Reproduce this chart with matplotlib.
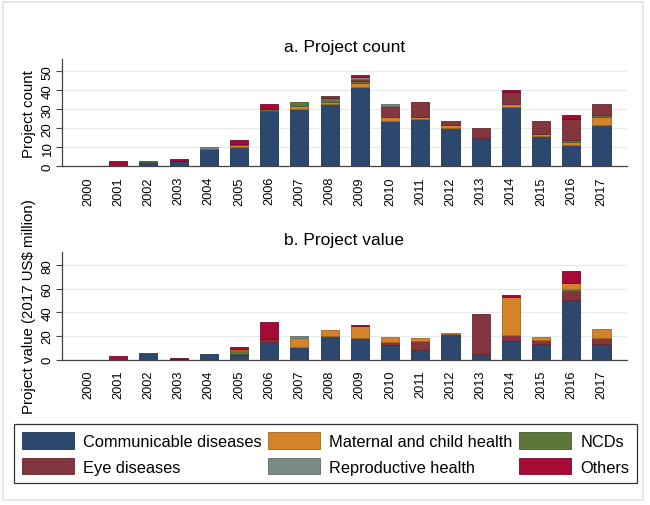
import numpy as np
import matplotlib
matplotlib.use('Agg')
import matplotlib.pyplot as plt
from matplotlib.patches import Patch, Rectangle

plt.rcParams['font.family'] = ['Liberation Sans', 'DejaVu Sans']

years = [str(y) for y in range(2000, 2018)]

# a. project count
comm_n = [0, 0, 2, 3, 9, 10, 29, 30, 33, 42, 24, 25, 20, 15, 31, 16, 11, 22]
mch_n = [0, 0, 0, 0, 0, 1, 0, 2, 1, 2, 2, 1, 2, 0, 2, 1, 2, 4]
ncd_n = [0, 0, 1, 0, 0, 1, 1, 2, 2, 1, 0, 0, 0, 0, 0, 0, 1, 1]
eye_n = [0, 0, 0, 0, 0, 0, 0, 0, 1, 1, 6, 8, 2, 5, 6, 7, 11, 6]
rep_n = [0, 0, 0, 0, 1, 0, 0, 0, 0, 1, 1, 0, 0, 0, 0, 0, 0, 0]
oth_n = [0, 3, 0, 1, 0, 2, 3, 0, 0, 1, 0, 0, 0, 0, 1, 0, 2, 0]

# b. project value (2017 US$ million)
comm_v = [0, 0, 5.3, 0.4, 4.8, 4.0, 15.2, 10.4, 20.3, 18.0, 12.4, 8.5, 21.4, 4.8, 16.0, 13.0, 50.7, 13.2]
eye_v = [0, 0, 0, 0, 0, 0.8, 2.3, 0, 0, 0.7, 2.8, 7.0, 0.5, 33.8, 4.8, 3.7, 7.6, 4.2]
ncd_v = [0, 0, 0.3, 0, 0, 3.7, 0, 0, 0, 0, 0, 0, 0, 0, 0, 0, 2.0, 0.8]
mch_v = [0, 0, 0, 0, 0, 0.5, 0, 7.6, 4.8, 9.9, 3.7, 2.5, 0.9, 0, 32.1, 2.8, 4.5, 7.9]
rep_v = [0, 0, 0, 0, 0, 0, 0, 1.7, 0, 0, 0, 0, 0, 0, 0, 0, 0, 0]
oth_v = [0, 2.8, 0, 1.0, 0, 1.4, 14.1, 0, 0, 1.0, 0, 0, 0, 0, 1.7, 0, 10.4, 0]

colors = {'Communicable diseases': '#2d486e', 'Maternal and child health': '#d5832a',
          'NCDs': '#5f763a', 'Eye diseases': '#84363e',
          'Reproductive health': '#7a8c84', 'Others': '#a60a37'}
edges = {'Communicable diseases': '#1f3350', 'Maternal and child health': '#a8651c',
         'NCDs': '#46582a', 'Eye diseases': '#62272d',
         'Reproductive health': '#5c6b64', 'Others': '#7a0628'}

top_stack = [('Communicable diseases', comm_n), ('Maternal and child health', mch_n),
             ('NCDs', ncd_n), ('Eye diseases', eye_n),
             ('Reproductive health', rep_n), ('Others', oth_n)]
bot_stack = [('Communicable diseases', comm_v), ('Eye diseases', eye_v),
             ('NCDs', ncd_v), ('Maternal and child health', mch_v),
             ('Reproductive health', rep_v), ('Others', oth_v)]

fig = plt.figure(figsize=(6.5, 5.06), dpi=100)
fig.patch.set_facecolor('white')
fig.patches.append(Rectangle((3/650, 5/506), 640/650, 498/506, transform=fig.transFigure,
                             fill=False, edgecolor='#dfe3e8', lw=1.2))

ax1 = fig.add_axes([0.0954, 0.6694, 0.869, 0.212])
ax2 = fig.add_axes([0.0954, 0.2872, 0.869, 0.2122])

x = np.arange(len(years))


def draw(ax, stack, ylim, yticks, ylab):
    bottom = np.zeros(len(years))
    for name, vals in stack:
        vals = np.array(vals, dtype=float)
        lw = np.where(vals > 0, 0.6, 0)
        ax.bar(x, vals, 0.6, bottom=bottom, color=colors[name],
               edgecolor=edges[name], linewidth=lw, zorder=3)
        bottom += vals
    ax.set_xlim(-0.86, 17.84)
    ax.set_ylim(*ylim)
    ax.set_yticks(yticks)
    ax.set_xticks(x)
    ax.set_xticklabels(years, rotation=90, fontsize=9.2)
    ax.tick_params(axis='x', length=0, pad=7)
    ax.tick_params(axis='y', length=4, width=0.8, color='#444444', pad=2, labelsize=9.5)
    for t in ax.get_yticklabels():
        t.set_rotation(90)
        t.set_va('center')
    ax.yaxis.grid(True, color='#e8eaec', lw=0.8, zorder=0)
    for s in ['top', 'right']:
        ax.spines[s].set_visible(False)
    for s in ['left', 'bottom']:
        ax.spines[s].set_color('#444444')
        ax.spines[s].set_linewidth(0.9)
    ax.set_ylabel(ylab, fontsize=10.8, labelpad=4)


draw(ax1, top_stack, (0, 56.5), [0, 10, 20, 30, 40, 50], 'Project count')
draw(ax2, bot_stack, (0, 91), [0, 20, 40, 60, 80], 'Project value (2017 US$ million)')

fig.text(0.53, 0.907, 'a. Project count', ha='center', va='center', fontsize=12.5)
fig.text(0.53, 0.524, 'b. Project value', ha='center', va='center', fontsize=12.5)

# legend fills column by column, so order the handles for row-wise reading
leg_order = ['Communicable diseases', 'Eye diseases', 'Maternal and child health',
             'Reproductive health', 'NCDs', 'Others']
handles = [Patch(facecolor=colors[l], edgecolor=edges[l], lw=0.6, label=l) for l in leg_order]
leg = fig.legend(handles=handles, ncol=3, loc='center', bbox_to_anchor=(0.5008, 0.1024),
                 fontsize=11.8, handlelength=3.2, handleheight=1.2, handletextpad=0.55,
                 columnspacing=0.37, labelspacing=0.55, borderpad=0.5, frameon=True,
                 fancybox=False)
leg.get_frame().set_edgecolor('black')
leg.get_frame().set_linewidth(0.9)

fig.savefig('out.png', dpi=100, facecolor='white')
